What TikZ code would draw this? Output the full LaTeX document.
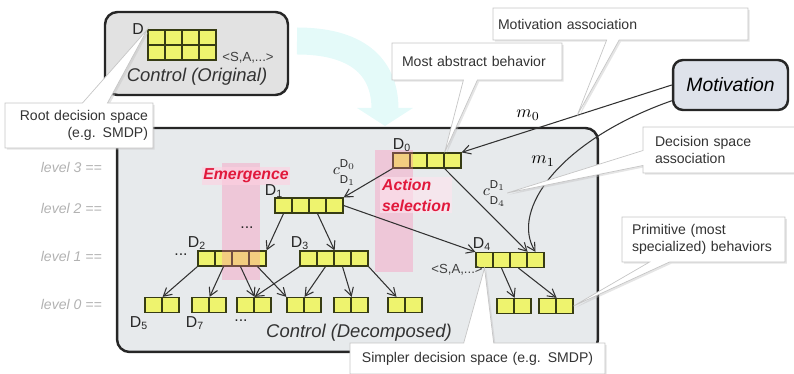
\documentclass[tikz,border=0pt]{standalone}
\usepackage{fontspec}
\setmainfont{Liberation Sans}
\usetikzlibrary{arrows.meta,shapes.callouts,shadows}
\definecolor{cellfill}{RGB}{238,243,110}
\definecolor{celldraw}{RGB}{55,60,20}
\definecolor{boxfill}{RGB}{226,226,226}
\definecolor{bigfill}{RGB}{231,234,236}
\definecolor{motfill}{RGB}{222,226,234}
\definecolor{bandpink}{RGB}{255,120,170}
\definecolor{emred}{RGB}{225,25,60}
\definecolor{cyanband}{RGB}{228,250,249}
\definecolor{linegray}{RGB}{50,50,50}
\newcommand{\cellstrip}[4]{\foreach \i in {1,...,#4} \node[cell] (#1-\i) at ({#2+(\i-0.5)*17},#3) {};}
\newcommand{\assoc}[2]{$c$\fontsize{6.5}{9}\selectfont\begin{tabular}[c]{@{}l@{}}D$_{#1}$\\D$_{#2}$\end{tabular}}
\begin{document}
\begin{tikzpicture}[x=0.02cm,y=-0.02cm,
	cell/.style={draw=celldraw,fill=cellfill,line width=0.7pt,minimum width=0.34cm,minimum height=0.3cm,inner sep=0pt},
	ctrl/.style={draw=black!85,line width=1.4pt,rounded corners=0.25cm},
	lbl/.style={font=\fontsize{9}{10}\selectfont,text=black!85},
	lvl/.style={font=\fontsize{8}{9}\selectfont\itshape,text=gray!60,anchor=east},
	arr/.style={draw=linegray,line width=0.6pt,-{Straight Barb[length=1.6mm,width=1.8mm]}},
	band/.style={fill=bandpink,fill opacity=0.3,draw=none},
	hot/.style={font=\fontsize{9}{12}\selectfont\bfseries\itshape,text=emred,fill=bandpink!35,fill opacity=0.6,text opacity=1,inner sep=1pt},
	callbox/.style={rectangle callout,draw=gray!45,fill=white,line width=0.4pt,text=black!80,font=\fontsize{8}{9.5}\selectfont,inner sep=0pt,drop shadow={shadow xshift=1pt,shadow yshift=-1pt,fill=gray!50,opacity=0.4}}]
	\useasboundingbox (0,0) rectangle (794,374);
	\draw[cyanband,line width=0.54cm,-{Triangle[width=1.1cm,length=0.36cm]}] (297,41) .. controls (355,41) and (385,65) .. (385,126);
	\node[ctrl,fill=boxfill,minimum width=3.66cm,minimum height=1.66cm] (orig) at (196.5,53.5) {};
	\node[ctrl,fill=bigfill,minimum width=9.62cm,minimum height=4.48cm] (deco) at (357.5,240) {};
	\node[ctrl,fill=motfill,rounded corners=0.2cm,minimum width=2.3cm,minimum height=1cm,font=\fontsize{11}{12}\selectfont\itshape] (mot) at (730.5,85) {Motivation};
	\node[font=\fontsize{10.5}{12}\selectfont\itshape,text=black!80] (origtxt) at (197,77) {Control (Original)};
	\node[font=\fontsize{10.5}{12}\selectfont\itshape,text=black!80] (decotxt) at (359,333) {Control (Decomposed)};
	\foreach \k/\y in {3/167,2/208,1/256,0/304} \node[lvl] (lv\k) at (108,\y) {level \k{} ==};
	\cellstrip{oa}{148}{37.5}{4}
	\cellstrip{ob}{148}{52.5}{4}
	\cellstrip{d0}{393}{160.5}{4}
	\cellstrip{d1}{275}{205.5}{4}
	\cellstrip{d2}{198}{258.5}{4}
	\cellstrip{d3}{300}{258.5}{4}
	\cellstrip{d4}{476}{260}{4}
	\foreach \n/\x in {l1/145,l2/192,l3/237,l4/287,l5/334,l6/388} {\cellstrip{\n}{\x}{305}{2}}
	\cellstrip{l7}{497}{306}{2}
	\cellstrip{l8}{539}{306}{2}
	\fill[band] (222,163) rectangle (260,280);
	\fill[band] (375,150) rectangle (413,272);
	\node[hot] (emer) at (246,176) {Emergence};
	\node[hot,align=left,anchor=west,fill=bandpink!20] (actsel) at (380,195) {Action\\selection};
	\node[lbl] (lD) at (138,29) {D};
	\node[lbl] (lD0) at (402,145) {D\textsubscript{0}};
	\node[lbl] (lD1) at (274,191) {D\textsubscript{1}};
	\node[lbl] (lD2) at (197,243) {D\textsubscript{2}};
	\node[lbl] (lD3) at (300,243) {D\textsubscript{3}};
	\node[lbl] (lD4) at (482,244) {D\textsubscript{4}};
	\node[lbl] (lD5) at (139,323) {D\textsubscript{5}};
	\node[lbl] (lD7) at (195,323) {D\textsubscript{7}};
	\node[lbl] (dotsa) at (247,228) {...};
	\node[lbl] (dotsb) at (181,255) {...};
	\node[lbl] (dotsc) at (241,321) {...};
	\node[font=\fontsize{7.5}{8}\selectfont,text=black!75] (sa1) at (248,58) {<S,A,...>};
	\node[font=\fontsize{7.5}{8}\selectfont,text=black!75] (sa2) at (457,270) {<S,A,...>};
	\node[lbl,inner sep=1pt] (c01) at (344,172) {\assoc{0}{1}};
	\node[lbl,inner sep=1pt] (c14) at (494,193) {\assoc{1}{4}};
	\node[font=\fontsize{10}{11}\selectfont] (m0) at (528,115) {$m_0$};
	\node[font=\fontsize{10}{11}\selectfont] (m1) at (543,161) {$m_1$};
	\draw[arr] (d0-1.south west) -- (d1-4.north east);
	\draw[arr] (d0-3.south east) -- (d4-3.north east);
	\draw[arr] (d1-4.east) -- (d4-1.north west);
	\draw[arr] (d1-1.south) -- (d2-4.north east);
	\draw[arr] (d1-3.south) -- (d3-2.north east);
	\draw[arr] (d2-1.south west) -- (l1-1.north east);
	\draw[arr] (d2-2.south) -- (l2-1.north east);
	\draw[arr] (d2-3.south) -- (l3-1.north east);
	\draw[arr] (d2-4.south) -- (l4-1.north west);
	\draw[arr] (d3-1.south west) -- (l3-1.north east);
	\draw[arr] (d3-2.south) -- (l4-1.north east);
	\draw[arr] (d3-3.south) -- (l5-1.north east);
	\draw[arr] (d3-4.south east) -- (l6-1.north);
	\draw[arr] (d4-2.south) -- (l7-1.north east);
	\draw[arr] (d4-3.south) -- (l8-1.north east);
	\draw[arr] (mot.west) -- coordinate[pos=0.45] (m0pt) (d0-4.north east);
	\draw[arr] (mot.195) .. controls (560,140) and (510,210) .. (d4-4.north);
	\node[callbox,callout absolute pointer={(oa-1.north west)},callout pointer width=0.5cm,text width=2.76cm,inner xsep=0.1cm,minimum height=0.9cm,align=right] (root) at (79,125.5) {Root decision space\\(e.g. SMDP)};
	\node[callbox,callout absolute pointer={(m0pt)},callout pointer width=0.25cm,text width=4.9cm,inner xsep=0.1cm,minimum height=0.64cm,align=left] (massoc) at (620.5,24) {Motivation association};
	\node[callbox,callout absolute pointer={(d0-3.north east)},callout pointer width=0.28cm,text width=3.0cm,inner xsep=0.2cm,minimum height=0.74cm,align=left] (mabs) at (477,61.5) {Most abstract behavior};
	\node[callbox,callout absolute pointer={(c14.east)},callout pointer width=0.3cm,text width=3.06cm,inner xsep=0.24cm,minimum height=0.92cm,align=left] (dsassoc) at (731.5,150) {Decision space\\association};
	\node[callbox,callout absolute pointer={(l8-2.east)},callout pointer width=0.4cm,text width=2.86cm,inner xsep=0.2cm,minimum height=0.9cm,align=left] (prim) at (703.5,239.5) {Primitive (most\\specialized) behaviors};
	\node[callbox,callout absolute pointer={(d4-1.south)},callout pointer width=0.6cm,text width=4.9cm,inner xsep=0.1cm,minimum height=0.62cm,align=center] (simp) at (477.5,358.5) {Simpler decision space (e.g. SMDP)};
\end{tikzpicture}
\end{document}
